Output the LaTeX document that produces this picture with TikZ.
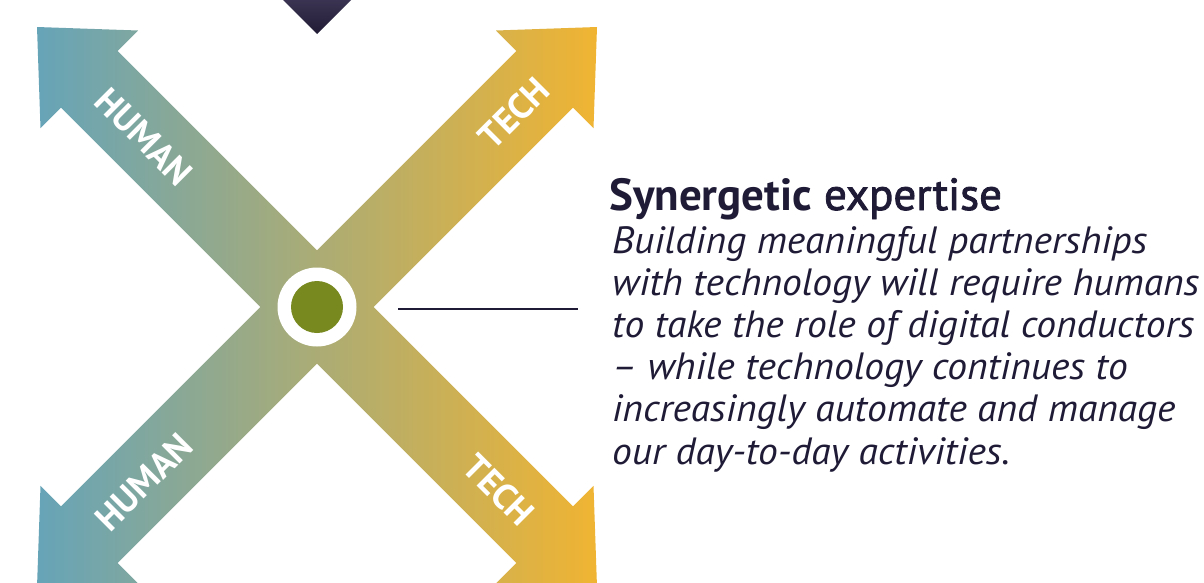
\documentclass[tikz,border=0pt]{standalone}
\usepackage{fontspec}
\setmainfont{PT Sans}
\newfontfamily\semib[FakeBold=1.9]{PT Sans}
\newfontfamily\bodyfont[FakeStretch=1.04,Ligatures=TeX]{PT Sans}
\definecolor{navy}{HTML}{1F1B37}
\definecolor{hteal}{HTML}{66A4B8}
\definecolor{tyel}{HTML}{F0B432}
\definecolor{hubolive}{HTML}{77891F}
\definecolor{tritop}{HTML}{3A3452}
\definecolor{tribot}{HTML}{211B35}
\begin{document}
\begin{tikzpicture}[x=1pt,y=-1pt,
  arrowfill/.style={left color=hteal, right color=tyel, draw=none},
  lbl/.style={text=white, font=\bfseries\fontsize{36}{36}\selectfont, inner sep=0pt},
  bodyline/.style={text=navy, font=\bodyfont\itshape\fontsize{38}{42}\selectfont, anchor=base west, inner sep=0pt}]
\useasboundingbox (0,0) rectangle (1204,582);
\fill[white] (0,0) rectangle (1204,582);
% arrow from bottom-left to top-right (below)
\shade[arrowfill] (597,27) -- (495.9,30.5) -- (516.4,51.05) -- (61.05,506.4) -- (40.5,485.9)
  -- (37,587) -- (138.1,583.5) -- (117.6,562.95) -- (572.95,107.6) -- (593.5,128.1) -- cycle;
% arrow from top-left to bottom-right (on top)
\shade[arrowfill] (37,27) -- (138.1,30.5) -- (117.6,51.05) -- (572.95,506.4) -- (593.5,485.9)
  -- (597,587) -- (495.9,583.5) -- (516.4,562.95) -- (61.05,107.6) -- (40.5,128.1) -- cycle;
% top triangle
\shade[top color=tritop, bottom color=tribot] (283,0) -- (351,0) -- (317,34) -- cycle;
% labels
\node[lbl, rotate=-45] (h1) at (144,137) {HUMAN};
\node[lbl, rotate=45] (h2) at (144,482) {HUMAN};
\node[lbl, rotate=45] (t1) at (514,113) {TECH};
\node[lbl, rotate=-45] (t2) at (499,490) {TECH};
% hub
\node[circle, fill=white, minimum size=79pt, inner sep=0pt] (hub) at (317,307) {};
\node[circle, fill=hubolive, minimum size=52pt, inner sep=0pt] (core) at (hub) {};
% connector line
\coordinate (ls) at (398,309);
\coordinate (le) at (578,309);
\draw[navy, line width=2.8pt] (ls) -- (le);
% text
\node[anchor=base west, inner sep=0pt, text=navy, font=\fontsize{45}{45}\selectfont] (head) at (609,210) {\textbf{Synergetic} {\semib expertise}};
\node[bodyline] (b1) at (612,253) {Building meaningful partnerships};
\node[bodyline] (b2) at (612,295) {with technology will require humans};
\node[bodyline] (b3) at (612,337) {to take the role of digital conductors};
\node[bodyline] (b4) at (612,379) {– while technology continues to};
\node[bodyline] (b5) at (612,421.5) {increasingly automate and manage};
\node[bodyline] (b6) at (612,464) {our day-to-day activities.};
\end{tikzpicture}
\end{document}
